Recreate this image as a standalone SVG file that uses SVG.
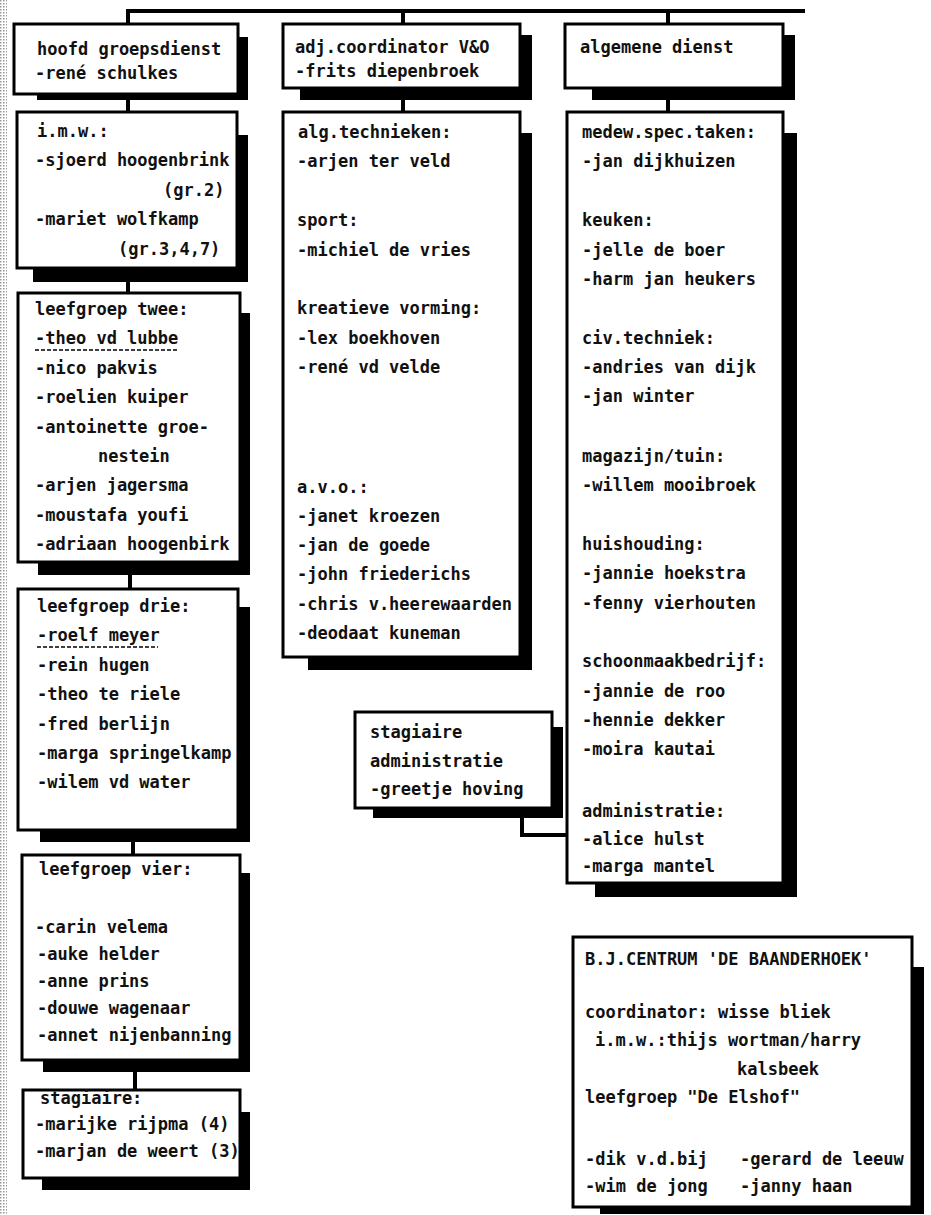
<svg xmlns="http://www.w3.org/2000/svg" width="931" height="1215" viewBox="0 0 931 1215">
<defs>
<pattern id="dots" width="3" height="3" patternUnits="userSpaceOnUse"><rect width="3" height="3" fill="#fff"/><rect width="1.5" height="1.5" fill="#999"/></pattern>
</defs>
<style>
.box{fill:#fff;stroke:#000;stroke-width:3}
.sh{fill:#000}
.c{fill:none;stroke:#000;stroke-width:4}
text{font-family:"DejaVu Sans Mono","Liberation Mono",monospace;font-size:17px;font-weight:bold;fill:#111}
.ul{stroke:#000;stroke-width:1.6;stroke-dasharray:4 2}
</style>
<rect width="931" height="1215" fill="#fff"/>
<rect x="0" y="0" width="7" height="1215" fill="url(#dots)"/>
<g id="connectors">
<path class="c" d="M128 24V11H805"/>
<path class="c" d="M403 11V24"/>
<path class="c" d="M668 11V24"/>
<path class="c" d="M128 100V112"/>
<path class="c" d="M403 100V112"/>
<path class="c" d="M668 100V112"/>
<path class="c" d="M128 282V293"/>
<path class="c" d="M130 575V589"/>
<path class="c" d="M133 842V855"/>
<path class="c" d="M135 1072V1090"/>
<path class="c" d="M522 818V835H567" stroke-width="3"/>
</g>
<g id="hoofd">
<rect class="sh" x="37" y="37" width="211" height="63"/>
<rect class="box" x="14" y="24" width="224" height="70"/>
<text x="37" y="55">hoofd groepsdienst</text>
<text x="35" y="79">-rené schulkes</text>
</g>
<g id="adj">
<rect class="sh" x="300" y="35" width="232" height="65"/>
<rect class="box" x="283" y="24" width="237" height="64"/>
<text x="295" y="53">adj.coordinator V&amp;O</text>
<text x="295" y="77">-frits diepenbroek</text>
</g>
<g id="algemeen">
<rect class="sh" x="592" y="35" width="203" height="65"/>
<rect class="box" x="565" y="24" width="218" height="64"/>
<text x="580" y="53">algemene dienst</text>
</g>
<g id="imw">
<rect class="sh" x="33" y="135" width="215" height="147"/>
<rect class="box" x="17" y="112" width="220" height="156"/>
<text x="37" y="137">i.m.w.:</text>
<text x="35" y="166">-sjoerd hoogenbrink</text>
<text x="163" y="196">(gr.2)</text>
<text x="35" y="225">-mariet wolfkamp</text>
<text x="118" y="255">(gr.3,4,7)</text>
</g>
<g id="leefgroep-twee">
<rect class="sh" x="38" y="313" width="212" height="262"/>
<rect class="box" x="18" y="293" width="222" height="269"/>
<text x="35" y="315">leefgroep twee:</text>
<text x="35" y="344">-theo vd lubbe</text>
<line class="ul" x1="35" y1="350" x2="177" y2="350"/>
<text x="35" y="374">-nico pakvis</text>
<text x="35" y="403">-roelien kuiper</text>
<text x="35" y="433">-antoinette groe-</text>
<text x="98" y="462">nestein</text>
<text x="35" y="491">-arjen jagersma</text>
<text x="35" y="521">-moustafa youfi</text>
<text x="35" y="550">-adriaan hoogenbirk</text>
</g>
<g id="leefgroep-drie">
<rect class="sh" x="40" y="607" width="210" height="235"/>
<rect class="box" x="18" y="589" width="220" height="241"/>
<text x="37" y="612">leefgroep drie:</text>
<text x="37" y="641">-roelf meyer</text>
<line class="ul" x1="37" y1="647" x2="158" y2="647"/>
<text x="37" y="671">-rein hugen</text>
<text x="37" y="700">-theo te riele</text>
<text x="37" y="730">-fred berlijn</text>
<text x="37" y="759">-marga springelkamp</text>
<text x="37" y="788">-wilem vd water</text>
</g>
<g id="leefgroep-vier">
<rect class="sh" x="43" y="873" width="207" height="199"/>
<rect class="box" x="22" y="855" width="218" height="205"/>
<text x="39" y="875">leefgroep vier:</text>
<text x="35" y="933">-carin velema</text>
<text x="37" y="960">-auke helder</text>
<text x="37" y="987">-anne prins</text>
<text x="37" y="1014">-douwe wagenaar</text>
<text x="37" y="1041">-annet nijenbanning</text>
</g>
<g id="stagiaire-groep">
<rect class="sh" x="42" y="1112" width="208" height="78"/>
<rect class="box" x="23" y="1090" width="217" height="88"/>
<text x="40" y="1104">stagiaire:</text>
<text x="35" y="1130">-marijke rijpma (4)</text>
<text x="35" y="1157">-marjan de weert (3)</text>
</g>
<g id="vo">
<rect class="sh" x="308" y="133" width="224" height="537"/>
<rect class="box" x="283" y="112" width="237" height="545"/>
<text x="298" y="138">alg.technieken:</text>
<text x="297" y="167">-arjen ter veld</text>
<text x="297" y="226">sport:</text>
<text x="297" y="256">-michiel de vries</text>
<text x="297" y="314">kreatieve vorming:</text>
<text x="297" y="344">-lex boekhoven</text>
<text x="297" y="373">-rené vd velde</text>
<text x="297" y="493">a.v.o.:</text>
<text x="297" y="522">-janet kroezen</text>
<text x="297" y="551">-jan de goede</text>
<text x="297" y="580">-john friederichs</text>
<text x="297" y="610">-chris v.heerewaarden</text>
<text x="297" y="639">-deodaat kuneman</text>
</g>
<g id="stagiaire-admin">
<rect class="sh" x="373" y="727" width="190" height="91"/>
<rect class="box" x="355" y="712" width="197" height="96"/>
<text x="370" y="738">stagiaire</text>
<text x="370" y="767">administratie</text>
<text x="370" y="795">-greetje hoving</text>
</g>
<g id="dienst">
<rect class="sh" x="595" y="133" width="202" height="764"/>
<rect class="box" x="567" y="112" width="216" height="771"/>
<text x="582" y="138">medew.spec.taken:</text>
<text x="582" y="167">-jan dijkhuizen</text>
<text x="582" y="226">keuken:</text>
<text x="582" y="256">-jelle de boer</text>
<text x="582" y="285">-harm jan heukers</text>
<text x="582" y="344">civ.techniek:</text>
<text x="582" y="373">-andries van dijk</text>
<text x="582" y="402">-jan winter</text>
<text x="582" y="462">magazijn/tuin:</text>
<text x="582" y="491">-willem mooibroek</text>
<text x="582" y="550">huishouding:</text>
<text x="582" y="579">-jannie hoekstra</text>
<text x="582" y="609">-fenny vierhouten</text>
<text x="582" y="667">schoonmaakbedrijf:</text>
<text x="582" y="697">-jannie de roo</text>
<text x="582" y="726">-hennie dekker</text>
<text x="582" y="755">-moira kautai</text>
<text x="582" y="817">administratie:</text>
<text x="582" y="845">-alice hulst</text>
<text x="582" y="872">-marga mantel</text>
</g>
<g id="bj-centrum">
<rect class="sh" x="600" y="967" width="324" height="247"/>
<rect class="box" x="573" y="937" width="339" height="270"/>
<text x="585" y="965">B.J.CENTRUM 'DE BAANDERHOEK'</text>
<text x="585" y="1018">coordinator: wisse bliek</text>
<text x="595" y="1046">i.m.w.:thijs wortman/harry</text>
<text x="737" y="1075">kalsbeek</text>
<text x="585" y="1103">leefgroep "De Elshof"</text>
<text x="585" y="1165">-dik v.d.bij</text>
<text x="740" y="1165">-gerard de leeuw</text>
<text x="585" y="1192">-wim de jong</text>
<text x="740" y="1192">-janny haan</text>
</g>
</svg>
